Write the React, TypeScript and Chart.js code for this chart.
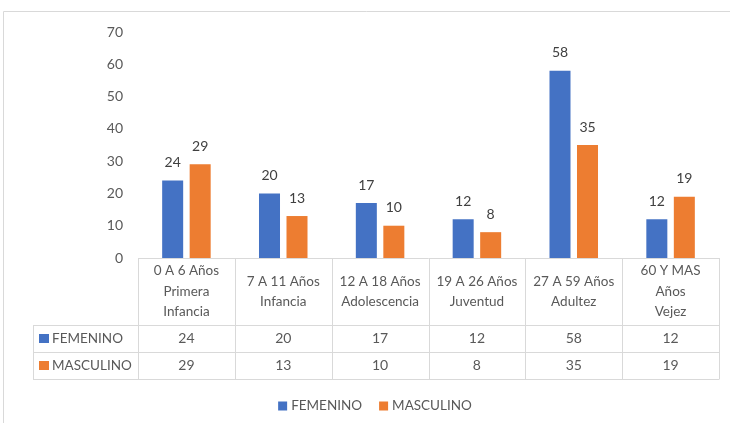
import { useEffect, useRef } from "react";
import { Chart, registerables } from "chart.js";

Chart.register(...registerables);

const categories: string[][] = [
  ["0 A 6 Años", "Primera", "Infancia"],
  ["7 A 11 Años", "Infancia"],
  ["12 A 18 Años", "Adolescencia"],
  ["19 A 26 Años", "Juventud"],
  ["27 A 59 Años", "Adultez"],
  ["60 Y MAS", "Años", "Vejez"],
];
const seriesNames = ["FEMENINO", "MASCULINO"];
const femenino = [24, 20, 17, 12, 58, 12];
const masculino = [29, 13, 10, 8, 35, 19];
const seriesColors = ["#4472C4", "#ED7D31"];
const yMin = 0;
const yMax = 70;
const yStep = 10;

const FONT = "Lato, 'Open Sans', sans-serif";
const TEXT = "#595959";
const LINE = "#d9d9d9";

const extrasPlugin = {
  id: "extras",
  afterDatasetsDraw(chart: any) {
    const ctx = chart.ctx;
    ctx.save();
    ctx.font = `14px ${FONT}`;
    ctx.fillStyle = "#404040";
    ctx.textAlign = "center";
    ctx.textBaseline = "middle";
    chart.data.datasets.forEach((ds: any, di: number) => {
      const meta = chart.getDatasetMeta(di);
      meta.data.forEach((el: any, i: number) => {
        ctx.fillText(String(ds.data[i]), el.x, el.y - 18);
      });
    });
    ctx.restore();
  },
  afterDraw(chart: any) {
    const ctx = chart.ctx;
    const area = chart.chartArea;
    const xs = chart.scales.x;
    const n = categories.length;
    const w = (area.right - area.left) / n;
    const top = area.bottom;
    const headBottom = top + 67;
    const r1 = headBottom + 27;
    const r2 = r1 + 27;
    const labelLeft = 33;
    ctx.save();
    // chart border
    ctx.strokeStyle = LINE;
    ctx.lineWidth = 1;
    ctx.beginPath();
    ctx.moveTo(3.5, chart.height);
    ctx.lineTo(3.5, 11.5);
    ctx.lineTo(chart.width, 11.5);
    ctx.stroke();
    // table lines
    ctx.beginPath();
    ctx.moveTo(area.left, top + 0.5);
    ctx.lineTo(area.right, top + 0.5);
    [headBottom, r1, r2].forEach((y) => {
      ctx.moveTo(labelLeft, y + 0.5);
      ctx.lineTo(area.right, y + 0.5);
    });
    for (let i = 0; i <= n; i++) {
      const x = Math.round(area.left + i * w) + 0.5;
      ctx.moveTo(x, top);
      ctx.lineTo(x, r2 + 0.5);
    }
    ctx.moveTo(labelLeft + 0.5, headBottom);
    ctx.lineTo(labelLeft + 0.5, r2 + 0.5);
    ctx.stroke();
    // header text
    ctx.font = `13.5px ${FONT}`;
    ctx.fillStyle = TEXT;
    ctx.textAlign = "center";
    ctx.textBaseline = "middle";
    const headCenter = (top + headBottom) / 2;
    categories.forEach((lines, i) => {
      const cx = xs.getPixelForValue(i);
      lines.forEach((line, li) => {
        ctx.fillText(line, cx, headCenter + (li - (lines.length - 1) / 2) * 20.5);
      });
    });
    // data rows
    const rows = [femenino, masculino];
    const rowCenters = [(headBottom + r1) / 2, (r1 + r2) / 2];
    rows.forEach((vals, ri) => {
      const cy = rowCenters[ri];
      ctx.font = `14px ${FONT}`;
      vals.forEach((v, i) => {
        ctx.textAlign = "center";
        ctx.fillText(String(v), xs.getPixelForValue(i), cy);
      });
      ctx.font = `13.5px ${FONT}`;
      ctx.fillStyle = seriesColors[ri];
      ctx.fillRect(39, cy - 4.5, 10, 9);
      ctx.fillStyle = TEXT;
      ctx.textAlign = "left";
      ctx.fillText(seriesNames[ri], 52, cy);
    });
    // legend
    const ly = 406;
    ctx.textAlign = "left";
    const gap = 4;
    const box = 9;
    const spacing = 17;
    const w1 = ctx.measureText(seriesNames[0]).width;
    const w2 = ctx.measureText(seriesNames[1]).width;
    const total = box + gap + w1 + spacing + box + gap + w2;
    let lx = 375 - total / 2;
    seriesNames.forEach((name, si) => {
      ctx.fillStyle = seriesColors[si];
      ctx.fillRect(lx, ly - 4.5, box, box);
      lx += box + gap;
      ctx.fillStyle = TEXT;
      ctx.fillText(name, lx, ly);
      lx += (si === 0 ? w1 : w2) + spacing;
    });
    ctx.restore();
  },
};

export default function App() {
  const ref = useRef<HTMLCanvasElement | null>(null);
  useEffect(() => {
    document.body.style.margin = "0";
    const canvas = ref.current;
    if (!canvas) return;
    const chart = new Chart(canvas, {
      type: "bar",
      data: {
        labels: categories.map((c) => c.join(" ")),
        datasets: [
          {
            label: seriesNames[0],
            data: femenino,
            backgroundColor: seriesColors[0],
            categoryPercentage: 0.568,
            barPercentage: 0.764,
          },
          {
            label: seriesNames[1],
            data: masculino,
            backgroundColor: seriesColors[1],
            categoryPercentage: 0.568,
            barPercentage: 0.764,
          },
        ],
      },
      options: {
        responsive: false,
        animation: false,
        layout: { padding: { left: 0, top: 32, right: 11, bottom: 0 } },
        plugins: { legend: { display: false }, tooltip: { enabled: false } },
        scales: {
          x: {
            grid: { display: false },
            border: { display: false },
            ticks: { display: false },
            afterFit: (s: any) => {
              s.height = 165;
            },
          },
          y: {
            min: yMin,
            max: yMax,
            grid: { display: false },
            border: { display: false },
            ticks: {
              stepSize: yStep,
              padding: 7,
              color: TEXT,
              font: { family: FONT, size: 14 },
            },
            afterFit: (s: any) => {
              s.width = 138;
            },
          },
        },
      },
      plugins: [extrasPlugin],
    });
    return () => chart.destroy();
  }, []);
  return (
    <div style={{ width: 730, height: 423 }}>
      <canvas ref={ref} width={730} height={423} style={{ display: "block" }} />
    </div>
  );
}
